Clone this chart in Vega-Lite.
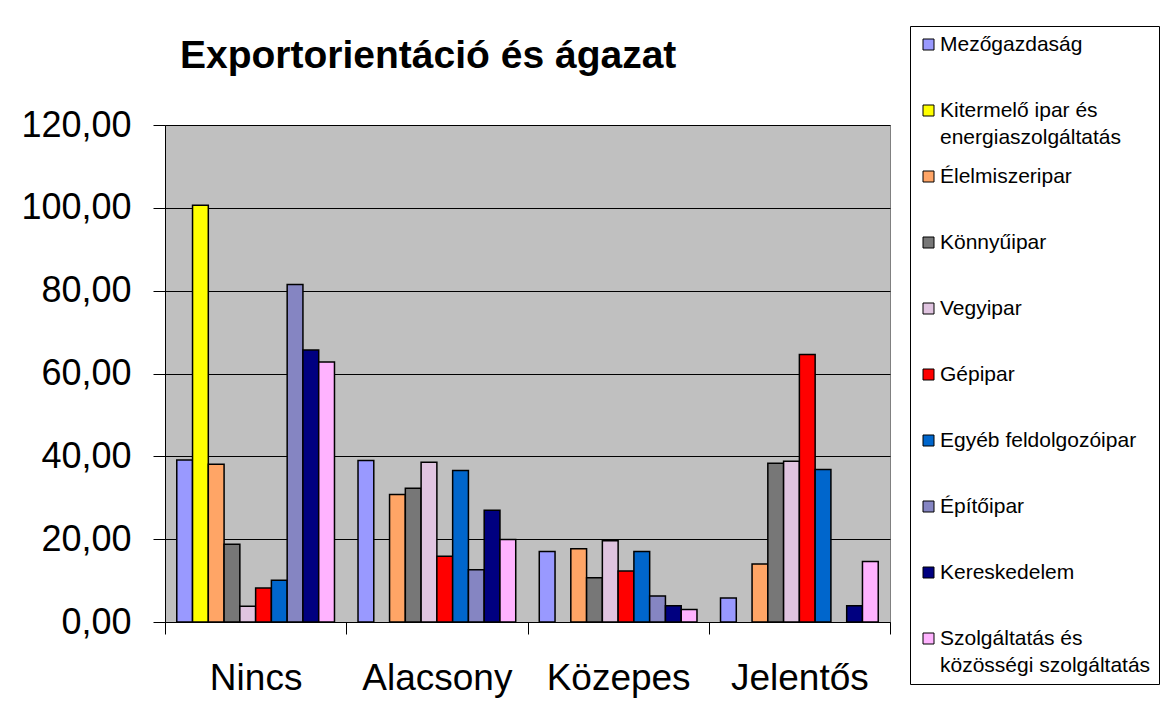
{
  "$schema": "https://vega.github.io/schema/vega-lite/v6.json",
  "width": 725,
  "height": 497,
  "autosize": {"type": "none"},
  "padding": {"left": 165, "top": 125, "right": 270, "bottom": 82},
  "background": "white",
  "title": {
    "text": "Exportorientáció és ágazat",
    "anchor": "start",
    "frame": "group",
    "dx": 15,
    "dy": 81,
    "offset": 0,
    "baseline": "alphabetic",
    "font": "Liberation Sans",
    "fontSize": 39,
    "fontWeight": "bold",
    "color": "black"
  },
  "data": {
    "values": [
      {"cat": "Nincs", "sector": "Mezőgazdaság", "value": 39.1},
      {"cat": "Nincs", "sector": "Kitermelő ipar és energiaszolgáltatás", "value": 100.6},
      {"cat": "Nincs", "sector": "Élelmiszeripar", "value": 38.1},
      {"cat": "Nincs", "sector": "Könnyűipar", "value": 18.8},
      {"cat": "Nincs", "sector": "Vegyipar", "value": 3.8},
      {"cat": "Nincs", "sector": "Gépipar", "value": 8.2},
      {"cat": "Nincs", "sector": "Egyéb feldolgozóipar", "value": 10.1},
      {"cat": "Nincs", "sector": "Építőipar", "value": 81.5},
      {"cat": "Nincs", "sector": "Kereskedelem", "value": 65.7},
      {"cat": "Nincs", "sector": "Szolgáltatás és közösségi szolgáltatás", "value": 62.8},
      {"cat": "Alacsony", "sector": "Mezőgazdaság", "value": 39.0},
      {"cat": "Alacsony", "sector": "Élelmiszeripar", "value": 30.8},
      {"cat": "Alacsony", "sector": "Könnyűipar", "value": 32.3},
      {"cat": "Alacsony", "sector": "Vegyipar", "value": 38.6},
      {"cat": "Alacsony", "sector": "Gépipar", "value": 15.9},
      {"cat": "Alacsony", "sector": "Egyéb feldolgozóipar", "value": 36.6},
      {"cat": "Alacsony", "sector": "Építőipar", "value": 12.6},
      {"cat": "Alacsony", "sector": "Kereskedelem", "value": 27.0},
      {"cat": "Alacsony", "sector": "Szolgáltatás és közösségi szolgáltatás", "value": 19.9},
      {"cat": "Közepes", "sector": "Mezőgazdaság", "value": 17.0},
      {"cat": "Közepes", "sector": "Élelmiszeripar", "value": 17.7},
      {"cat": "Közepes", "sector": "Könnyűipar", "value": 10.7},
      {"cat": "Közepes", "sector": "Vegyipar", "value": 19.6},
      {"cat": "Közepes", "sector": "Gépipar", "value": 12.3},
      {"cat": "Közepes", "sector": "Egyéb feldolgozóipar", "value": 17.0},
      {"cat": "Közepes", "sector": "Építőipar", "value": 6.3},
      {"cat": "Közepes", "sector": "Kereskedelem", "value": 3.9},
      {"cat": "Közepes", "sector": "Szolgáltatás és közösségi szolgáltatás", "value": 3.0},
      {"cat": "Jelentős", "sector": "Mezőgazdaság", "value": 5.8},
      {"cat": "Jelentős", "sector": "Élelmiszeripar", "value": 14.0},
      {"cat": "Jelentős", "sector": "Könnyűipar", "value": 38.3},
      {"cat": "Jelentős", "sector": "Vegyipar", "value": 38.8},
      {"cat": "Jelentős", "sector": "Gépipar", "value": 64.6},
      {"cat": "Jelentős", "sector": "Egyéb feldolgozóipar", "value": 36.8},
      {"cat": "Jelentős", "sector": "Kereskedelem", "value": 3.9},
      {"cat": "Jelentős", "sector": "Szolgáltatás és közösségi szolgáltatás", "value": 14.6}
    ]
  },
  "mark": {"type": "bar", "stroke": "black", "strokeWidth": 1.5},
  "encoding": {
    "x": {
      "field": "cat",
      "type": "nominal",
      "sort": ["Nincs", "Alacsony", "Közepes", "Jelentős"],
      "scale": {"paddingInner": 0, "paddingOuter": 0},
      "axis": {
        "title": null,
        "labelAngle": 0,
        "labelFont": "Liberation Sans",
        "labelFontSize": 37,
        "labelColor": "black",
        "labelPadding": 26,
        "tickBand": "extent",
        "tickSize": 12,
        "tickColor": "black",
        "domainColor": "black",
        "grid": false
      }
    },
    "xOffset": {
      "field": "sector",
      "type": "nominal",
      "sort": ["Mezőgazdaság", "Kitermelő ipar és energiaszolgáltatás", "Élelmiszeripar", "Könnyűipar", "Vegyipar", "Gépipar", "Egyéb feldolgozóipar", "Építőipar", "Kereskedelem", "Szolgáltatás és közösségi szolgáltatás"],
      "scale": {"paddingInner": 0, "paddingOuter": 0.746}
    },
    "y": {
      "field": "value",
      "type": "quantitative",
      "scale": {"domain": [0, 120], "nice": false},
      "axis": {
        "title": null,
        "values": [0, 20, 40, 60, 80, 100, 120],
        "labelExpr": "replace(format(datum.value, '.2f'), '.', ',')",
        "labelFont": "Liberation Sans",
        "labelFontSize": 36,
        "labelColor": "black",
        "labelPadding": 22,
        "tickSize": 12,
        "tickColor": "black",
        "domainColor": "black",
        "grid": true,
        "gridColor": "black",
        "gridOpacity": 1
      }
    },
    "fill": {
      "field": "sector",
      "type": "nominal",
      "scale": {
        "domain": ["Mezőgazdaság", "Kitermelő ipar és energiaszolgáltatás", "Élelmiszeripar", "Könnyűipar", "Vegyipar", "Gépipar", "Egyéb feldolgozóipar", "Építőipar", "Kereskedelem", "Szolgáltatás és közösségi szolgáltatás"],
        "range": ["#9999FF", "#FFFF00", "#FFA566", "#777777", "#E0C4E0", "#FF0000", "#0066CC", "#8585C2", "#000080", "#FFB3FF"]
      },
      "legend": {
        "orient": "none",
        "legendX": 745,
        "legendY": -99,
        "title": null,
        "direction": "vertical",
        "symbolType": "square",
        "symbolSize": 121,
        "symbolStrokeColor": "black",
        "symbolStrokeWidth": 1,
        "labelFont": "Liberation Sans",
        "labelFontSize": 21,
        "labelColor": "black",
        "labelLimit": 400,
        "labelOffset": 1,
        "rowPadding": 17,
        "padding": 8,
        "fillColor": "white",
        "strokeColor": "black",
        "labelExpr": "datum.label == 'Kitermelő ipar és energiaszolgáltatás' ? ['Kitermelő ipar és', 'energiaszolgáltatás'] : datum.label == 'Szolgáltatás és közösségi szolgáltatás' ? ['Szolgáltatás és', 'közösségi szolgáltatás'] : [datum.label, '']"
      }
    }
  },
  "config": {
    "view": {"fill": "#C0C0C0", "stroke": "#808080"},
    "style": {"guide-label": {"lineHeight": 27}}
  }
}
